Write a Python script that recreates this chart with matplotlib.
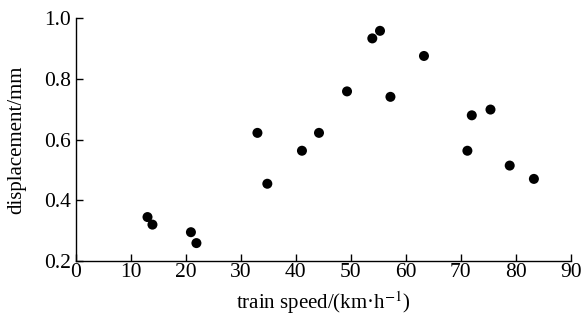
import matplotlib
matplotlib.use("Agg")
import matplotlib.pyplot as plt

speed = [13.0, 13.9, 20.9, 21.9, 33.0, 34.8, 41.1, 44.2, 49.3, 53.9, 55.3, 57.2,
         63.3, 71.2, 72.0, 75.4, 78.9, 83.3]
displacement = [0.344, 0.319, 0.294, 0.258, 0.622, 0.454, 0.563, 0.622, 0.759, 0.934,
                0.959, 0.741, 0.876, 0.563, 0.680, 0.699, 0.514, 0.470]
xticks = [0, 10, 20, 30, 40, 50, 60, 70, 80, 90]
yticks = [0.2, 0.4, 0.6, 0.8, 1.0]

plt.rcParams['font.family'] = ['Liberation Serif', 'DejaVu Serif']
plt.rcParams['mathtext.fontset'] = 'stix'

fig = plt.figure(figsize=(5.85, 3.23), dpi=100)
ax = fig.add_axes([0.13, 0.193, 0.8456, 0.75])
ax.scatter(speed, displacement, s=52, color='black', edgecolors='none', zorder=3)
ax.set_xlim(0, 90)
ax.set_ylim(0.2, 1.0)
ax.set_xticks(xticks)
ax.set_xticklabels([str(t) for t in xticks])
ax.set_yticks(yticks)
ax.set_yticklabels([f"{t:.1f}" for t in yticks])
for s in ['top', 'right']:
    ax.spines[s].set_visible(False)
for s in ['left', 'bottom']:
    ax.spines[s].set_linewidth(1.0)
ax.tick_params(direction='in', length=5, width=1.0, labelsize=15.5)
ax.tick_params(axis='x', pad=2)
ax.tick_params(axis='y', pad=3.5)
ax.set_xlabel('train speed/(km·h$^{-1}$)', fontsize=15, labelpad=5)
ax.set_ylabel('displacement/mm', fontsize=15, labelpad=13)
fig.savefig('out.png', dpi=100)
